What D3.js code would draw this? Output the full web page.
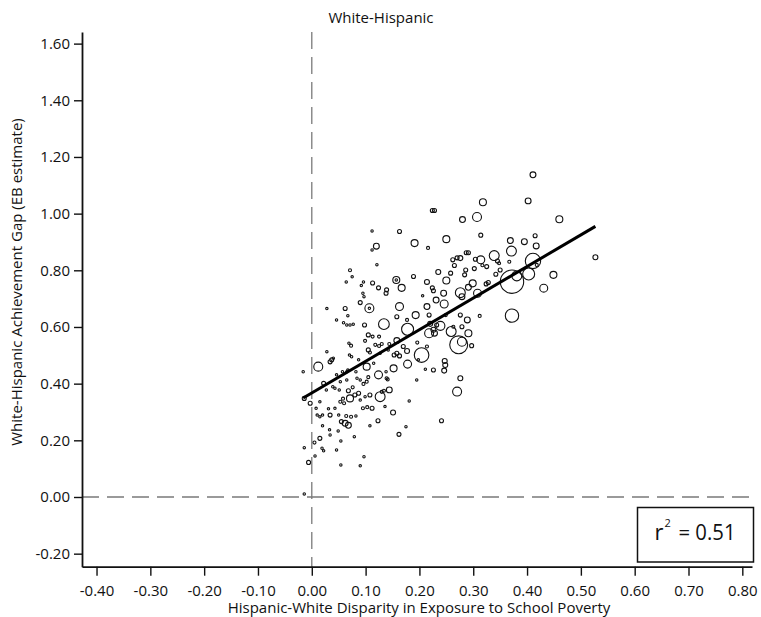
<!DOCTYPE html>
<html>
<head>
<meta charset="utf-8">
<script src="https://cdn.jsdelivr.net/npm/d3@7"></script>
<style>
  html, body { margin: 0; padding: 0; background: #fff; }
  svg { display: block; font-family: "Open Sans", "Liberation Sans", sans-serif; }
</style>
</head>
<body>
<svg id="chart" width="761" height="617"></svg>
<script>
// District-level estimates: Hispanic-White disparity in exposure to school poverty (x),
// White-Hispanic achievement gap, EB estimate (y), and enrollment weight (marker area).
const disparity = [
  0.411, 0.318, 0.402, 0.224, 0.228, 0.280, 0.307, 0.460, 0.112, 0.163,
  0.120, 0.112, 0.191, 0.216, 0.250, 0.314, 0.369, 0.395, 0.415, 0.417,
  0.371, 0.339, 0.345, 0.348, 0.367, 0.411, 0.418, 0.527, 0.121, 0.071,
  0.075, 0.064, 0.096, 0.092, 0.113, 0.124, 0.139, 0.138, 0.157, 0.157,
  0.167, 0.189, 0.214, 0.224, 0.226, 0.206, 0.235, 0.250, 0.245, 0.258,
  0.262, 0.270, 0.276, 0.287, 0.291, 0.265, 0.284, 0.286, 0.302, 0.299,
  0.276, 0.291, 0.304, 0.314, 0.325, 0.317, 0.350, 0.342, 0.372, 0.381,
  0.403, 0.449, 0.431, 0.308, 0.324, 0.328, 0.095, 0.097, 0.090, 0.107,
  0.107, 0.163, 0.214, 0.062, 0.028, 0.231, 0.246, 0.279, 0.067, 0.134,
  0.158, 0.193, 0.177, 0.178, 0.218, 0.249, 0.276, 0.289, 0.312, 0.372,
  0.239, 0.218, 0.228, 0.259, 0.263, 0.279, 0.291, 0.273, 0.279, 0.297,
  0.059, 0.065, 0.071, 0.077, 0.098, 0.046, 0.105, 0.113, 0.125, 0.099,
  0.069, 0.073, 0.118, 0.125, 0.130, 0.144, 0.158, 0.170, 0.196, 0.214,
  0.204, 0.198, 0.178, 0.153, 0.158, 0.163, 0.177, 0.127, 0.142, 0.105,
  0.108, 0.028, 0.037, 0.034, 0.040, 0.012, 0.070, 0.074, 0.087, 0.102,
  0.115, 0.067, 0.065, 0.057, 0.082, 0.046, 0.084, 0.090, 0.124, 0.138,
  0.152, 0.139, 0.141, 0.105, 0.102, 0.096, 0.065, 0.053, 0.022, 0.039,
  0.043, 0.027, 0.051, 0.068, 0.076, 0.080, 0.087, 0.071, 0.058, 0.053,
  0.060, 0.127, 0.130, 0.134, 0.144, 0.108, 0.099, 0.112, 0.103, 0.095,
  0.090, 0.136, 0.151, 0.181, 0.195, 0.211, 0.226, 0.247, 0.248, 0.246,
  0.276, 0.270, 0.241, 0.015, 0.008, 0.010, 0.015, 0.020, 0.034, 0.031,
  0.043, 0.050, 0.055, 0.062, 0.068, 0.064, 0.073, 0.082, 0.020, 0.033,
  0.034, 0.049, 0.054, 0.079, 0.108, 0.123, 0.175, 0.162, 0.015, 0.005,
  0.019, 0.022, -0.014, 0.006, 0.046, 0.097, -0.006, 0.054, 0.090, -0.014,
  -0.016, -0.014, -0.003, 0.220, 0.226, 0.232
];

const achievementGap = [
  1.137, 1.040, 1.045, 1.011, 1.011, 0.979, 0.988, 0.980, 0.939, 0.937,
  0.885, 0.872, 0.896, 0.879, 0.910, 0.924, 0.905, 0.901, 0.922, 0.886,
  0.868, 0.852, 0.833, 0.825, 0.830, 0.833, 0.819, 0.846, 0.820, 0.800,
  0.777, 0.759, 0.759, 0.746, 0.755, 0.738, 0.731, 0.719, 0.766, 0.766,
  0.738, 0.778, 0.759, 0.738, 0.728, 0.710, 0.794, 0.764, 0.719, 0.790,
  0.837, 0.844, 0.843, 0.862, 0.862, 0.817, 0.784, 0.801, 0.806, 0.754,
  0.721, 0.740, 0.839, 0.837, 0.813, 0.818, 0.801, 0.786, 0.760, 0.780,
  0.787, 0.784, 0.737, 0.719, 0.752, 0.757, 0.719, 0.707, 0.686, 0.666,
  0.666, 0.672, 0.672, 0.665, 0.665, 0.695, 0.681, 0.707, 0.640, 0.610,
  0.636, 0.642, 0.625, 0.592, 0.642, 0.642, 0.642, 0.625, 0.639, 0.640,
  0.604, 0.578, 0.578, 0.584, 0.601, 0.601, 0.578, 0.537, 0.548, 0.534,
  0.615, 0.607, 0.607, 0.610, 0.607, 0.625, 0.572, 0.566, 0.566, 0.551,
  0.543, 0.534, 0.537, 0.533, 0.540, 0.540, 0.552, 0.531, 0.545, 0.531,
  0.501, 0.484, 0.469, 0.501, 0.507, 0.498, 0.515, 0.507, 0.519, 0.519,
  0.510, 0.513, 0.484, 0.477, 0.490, 0.460, 0.501, 0.495, 0.484, 0.460,
  0.472, 0.448, 0.442, 0.442, 0.442, 0.431, 0.419, 0.413, 0.431, 0.442,
  0.454, 0.419, 0.415, 0.423, 0.407, 0.399, 0.413, 0.407, 0.401, 0.389,
  0.384, 0.378, 0.378, 0.375, 0.387, 0.360, 0.366, 0.348, 0.347, 0.336,
  0.331, 0.354, 0.371, 0.375, 0.378, 0.360, 0.354, 0.313, 0.317, 0.313,
  0.342, 0.319, 0.298, 0.339, 0.413, 0.451, 0.448, 0.480, 0.466, 0.446,
  0.419, 0.372, 0.269, 0.336, 0.313, 0.289, 0.283, 0.289, 0.289, 0.311,
  0.313, 0.289, 0.266, 0.260, 0.253, 0.286, 0.283, 0.286, 0.251, 0.237,
  0.219, 0.233, 0.198, 0.213, 0.251, 0.269, 0.248, 0.221, 0.207, 0.192,
  0.172, 0.163, 0.174, 0.145, 0.166, 0.142, 0.122, 0.113, 0.110, 0.011,
  0.442, 0.348, 0.331, 0.611, 0.590, 0.607
];

const enrollment = [
  6, 8.5, 6, 2.8, 2.8, 6, 14, 8.5, 1, 2.8,
  6, 1, 8.5, 1.6, 8.5, 2.8, 6, 6, 2.8, 6,
  17, 17, 2.8, 1.6, 1.6, 41, 1.6, 4.3, 1, 1.6,
  1, 1, 1, 1, 2.8, 2.8, 2.8, 2.8, 8.5, 1,
  8.5, 2.8, 4.3, 2.8, 2.8, 1, 4.3, 8.5, 6, 2.8,
  2.8, 2.8, 4.3, 2.8, 2.8, 2.8, 2.8, 2.8, 2.8, 8.5,
  17, 6, 2.8, 11, 2.8, 1.6, 2.8, 2.8, 95, 17,
  25, 8.5, 11, 11, 2.8, 2.8, 1, 1, 2.8, 14,
  1, 11, 6, 2.8, 1, 6, 11, 6, 1, 20,
  2.8, 8.5, 1.6, 25, 2.8, 1.6, 2.8, 6, 1.6, 31,
  14, 14, 6, 17, 1.6, 2.8, 8.5, 56, 14, 2.8,
  1, 1, 1, 1, 2.8, 1, 2.8, 1.6, 1.6, 1.6,
  1, 1.6, 1.6, 1.6, 1.6, 1.6, 6, 2.8, 1.6, 1.6,
  37, 1, 11, 2.8, 2.8, 2.8, 4.3, 1, 1, 2.8,
  1.6, 1, 2.8, 2.8, 1, 14, 1, 1, 1, 8.5,
  1, 1, 1, 1, 1, 1, 1, 1, 11, 1,
  8.5, 1.6, 1.6, 1.6, 1.6, 1.6, 1, 1, 2.8, 1,
  1, 1, 1, 2.8, 1.6, 2.8, 2.8, 8.5, 1.6, 1.6,
  1.6, 17, 1.6, 1.6, 6, 2.8, 1, 2.8, 1.6, 1.6,
  1, 1, 4.3, 1, 1, 1, 2.8, 4.3, 4.3, 4.3,
  4.3, 14, 2.8, 1, 1, 1, 1, 1, 2.8, 1,
  1, 1, 2.8, 6, 6, 1.6, 1.6, 1, 1, 1,
  1, 1, 1, 1, 1, 2.8, 1, 2.8, 2.8, 1.6,
  1, 1, 1, 1, 1, 1, 2.8, 1, 1, 1,
  1, 2.8, 2.8, 4.3, 4.3, 2.8
];

const xTicks = [-0.40, -0.30, -0.20, -0.10, 0.00, 0.10, 0.20, 0.30, 0.40, 0.50, 0.60, 0.70, 0.80];
const yTicks = [-0.20, 0.00, 0.20, 0.40, 0.60, 0.80, 1.00, 1.20, 1.40, 1.60];

// Weighted OLS fit reported for this panel
const fitIntercept = 0.367;
const fitSlope = 1.116;
const rSquared = 0.51;

const chartTitle = "White-Hispanic";
const xTitle = "Hispanic-White Disparity in Exposure to School Poverty";
const yTitle = "White-Hispanic Achievement Gap (EB estimate)";

const svg = d3.select("#chart");
const W = 761, H = 617;
svg.append("rect").attr("width", W).attr("height", H).attr("fill", "#fff");

const plot = { left: 82, right: 752, top: 32, bottom: 566.7 };

const x = d3.scaleLinear().domain([-0.427, 0.818]).range([plot.left, plot.right]);
const y = d3.scaleLinear().domain([-0.246, 1.641]).range([plot.bottom, plot.top]);
const r = d3.scaleSqrt().domain([0, 100]).range([0, 12]);

const fmt = d => d.toFixed(2);

// Reference lines at zero
const refStyle = g => g.attr("stroke", "#7a7a7a").attr("stroke-width", 1.3)
  .attr("stroke-dasharray", "17,8").attr("fill", "none");
svg.append("line")
  .attr("x1", x(0)).attr("x2", x(0))
  .attr("y1", plot.top).attr("y2", plot.bottom)
  .call(refStyle);
svg.append("line")
  .attr("x1", plot.left).attr("x2", plot.right)
  .attr("y1", y(0)).attr("y2", y(0))
  .call(refStyle);

// Districts as open circles sized by enrollment
const pts = d3.range(disparity.length).map(i => ({ x: disparity[i], y: achievementGap[i], w: enrollment[i] }));
pts.sort((a, b) => b.w - a.w);
svg.append("g")
  .selectAll("circle")
  .data(pts)
  .join("circle")
  .attr("cx", d => x(d.x))
  .attr("cy", d => y(d.y))
  .attr("r", d => r(d.w))
  .attr("fill", "none")
  .attr("stroke", "#111")
  .attr("stroke-width", 1.1);

// Fitted line over the observed range of x
const xr = d3.extent(disparity);
svg.append("line")
  .attr("x1", x(xr[0])).attr("y1", y(fitIntercept + fitSlope * xr[0]))
  .attr("x2", x(xr[1])).attr("y2", y(fitIntercept + fitSlope * xr[1]))
  .attr("stroke", "#000").attr("stroke-width", 3).attr("stroke-linecap", "butt");

// Axes
const xAxis = d3.axisBottom(x).tickValues(xTicks).tickFormat(fmt).tickSize(9).tickPadding(10).tickSizeOuter(0);
const yAxis = d3.axisLeft(y).tickValues(yTicks).tickFormat(fmt).tickSize(8).tickPadding(4).tickSizeOuter(0);

const gx = svg.append("g").attr("transform", `translate(0,${plot.bottom})`).call(xAxis);
const gy = svg.append("g").attr("transform", `translate(${plot.left},0)`).call(yAxis);
[gx, gy].forEach(g => {
  g.select(".domain").attr("stroke", "#111").attr("stroke-width", 1.8);
  g.selectAll(".tick line").attr("stroke", "#111").attr("stroke-width", 1.4);
  g.selectAll(".tick text").attr("fill", "#111").attr("font-size", 15)
    .attr("font-family", "'Open Sans', 'Liberation Sans', sans-serif");
});

// Titles
svg.append("text")
  .attr("x", 381).attr("y", 22.5)
  .attr("text-anchor", "middle").attr("font-size", 15).attr("fill", "#111")
  .text(chartTitle);
svg.append("text")
  .attr("x", 419).attr("y", 613)
  .attr("text-anchor", "middle").attr("font-size", 15).attr("fill", "#111")
  .text(xTitle);
svg.append("text")
  .attr("transform", `translate(22,282) rotate(-90)`)
  .attr("text-anchor", "middle").attr("font-size", 15).attr("fill", "#111")
  .text(yTitle);

// r-squared annotation
const box = svg.append("g").attr("transform", "translate(637.5,507.5)");
box.append("rect").attr("width", 116).attr("height", 54.5)
  .attr("fill", "#fff").attr("stroke", "#111").attr("stroke-width", 1.5);
box.append("text").attr("x", 17).attr("y", 32)
  .attr("font-size", 22).attr("fill", "#111").text("r");
box.append("text").attr("x", 27).attr("y", 19.5)
  .attr("font-size", 11).attr("fill", "#111").text("2");
box.append("text").attr("x", 41).attr("y", 32)
  .attr("font-size", 22).attr("fill", "#111")
  .attr("textLength", 57).attr("lengthAdjust", "spacingAndGlyphs")
  .text("= " + rSquared.toFixed(2));
</script>
</body>
</html>
